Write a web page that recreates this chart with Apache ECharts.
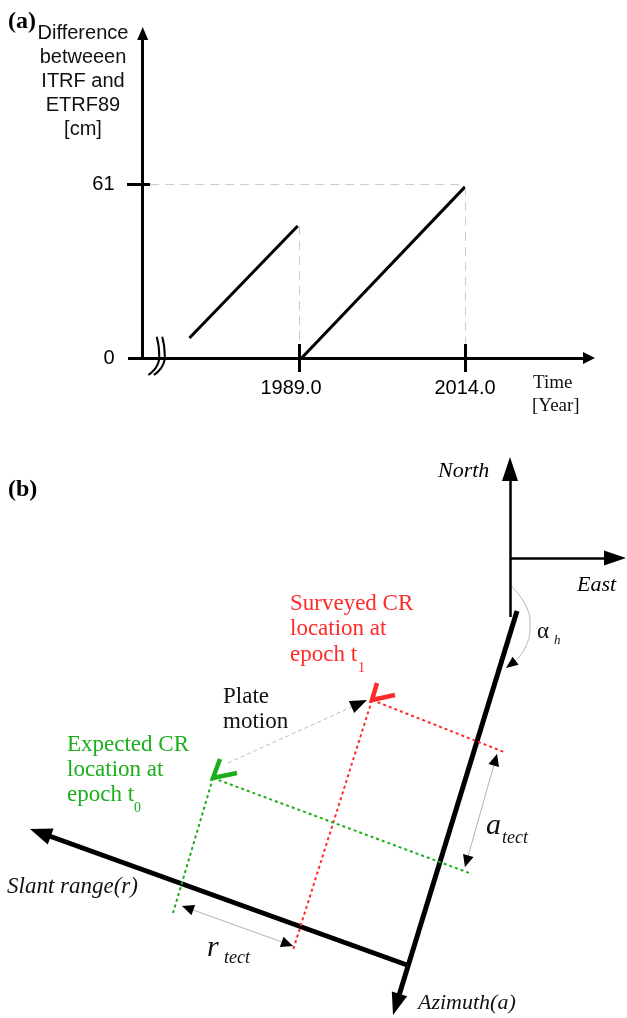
<!DOCTYPE html>
<html>
<head>
<meta charset="utf-8">
<script src="https://cdn.jsdelivr.net/npm/echarts@6/dist/echarts.min.js"></script>
<style>
  html, body { margin: 0; padding: 0; background: #fff; }
  #chart { width: 627px; height: 1018px; }
</style>
</head>
<body>
<div id="chart"></div>
<script>
// ---------- panel (a): difference between ITRF and ETRF89 ----------
const tickYears = [1989.0, 2014.0];
const tickCm = [0, 61];
const etrfBefore = [[1972.5, 7.0], [1988.8, 46.3]];
const etrfAfter = [[1989.4, 0], [2014.0, 60.0]];

// ---------- panel (b): range / azimuth geometry ----------
// diagram units (1 unit = 1 px), origin at the North/East cross, y up
const northDir = [[0, -59], [0, 101]];
const eastDir = [[0, 0], [116, 0]];
const azimuthAxis = [[7, -53], [-117, -457]];
const rangeAxis = [[-103, -407], [-480, -271]];
const surveyedCR = [[-133, -125], [-138, -142], [-115, -137]];
const expectedCR = [[-290, -201], [-297, -220], [-273, -215]];
const surveyedAz = [[-138, -142], [-217, -392]];
const surveyedRg = [[-138, -142], [-6, -194]];
const expectedAz = [[-297, -220], [-337, -355]];
const expectedRg = [[-297, -220], [-38, -316]];
const plateMotion = [[-282, -205], [-143, -142]];
const aTect = [[-13, -196], [-45, -309]];
const rTect = [[-328, -348], [-217, -388]];
const alphaArc = [[0, -27], [15, -46], [20, -68], [15, -90], [4, -104]];
const alphaTip = [-4, -110];

// px per data unit in each panel
const K_A = [6.64, 2.852];
const K_B = [1, 1];

// layout of panel (a) axes, in data units
const yAxisYear = 1965.46, yAxisTop = 116.06;
const xAxisStart = 1963.25, xAxisEnd = 2033.58;

const RED = '#ff2a2a', GREEN = '#1cae1c';

function unitPx(from, to, k) {
  const dx = (to[0] - from[0]) * k[0], dy = (to[1] - from[1]) * k[1];
  const d = Math.hypot(dx, dy);
  return [dx / d, dy / d];
}
function back(tip, u, dist, k) {
  return [tip[0] - u[0] * dist / k[0], tip[1] - u[1] * dist / k[1]];
}
// line with a solid head whose tip lands on `tip`
function arrowSeg(from, tip, len, wid, style, k) {
  const u = unitPx(from, tip, k);
  return [{coord: from, lineStyle: style},
          {coord: back(tip, u, len / 2, k), symbol: 'triangle', symbolSize: [wid, len]}];
}
// just a black head
function headOnly(from, tip, len, wid, k) {
  const u = unitPx(from, tip, k);
  return [{coord: back(tip, u, len * 0.9, k), lineStyle: {color: '#000', width: 1, type: 'solid'}},
          {coord: back(tip, u, len / 2, k), symbol: 'triangle', symbolSize: [wid, len]}];
}
function plainSeg(a, b, style) {
  return [{coord: a, lineStyle: style}, {coord: b}];
}
const solid = (w, c) => ({color: c || '#000', width: w, type: 'solid', cap: 'butt'});

function mlSeries(grid, items, z) {
  return {
    type: 'line', xAxisIndex: grid, yAxisIndex: grid, data: [], silent: true, z: z || 2,
    markLine: {
      silent: true, symbol: ['none', 'none'], label: {show: false},
      emphasis: {disabled: true}, animation: false, data: items
    }
  };
}
function poly(grid, pts, color, width, extra) {
  return Object.assign({
    type: 'line', xAxisIndex: grid, yAxisIndex: grid, data: pts, symbol: 'none',
    clip: false, silent: true, z: 3,
    lineStyle: {color: color, width: width, join: 'miter', cap: 'butt'}
  }, extra || {});
}

// panel (a) pieces
const guide = {color: '#cccccc', width: 1, type: [9, 6]};
const guidesA = [
  plainSeg([1966.6, tickCm[1]], [tickYears[1], tickCm[1]], guide),
  plainSeg([tickYears[1], etrfAfter[1][1]], [tickYears[1], 5], guide),
  plainSeg([tickYears[0], etrfBefore[1][1]], [tickYears[0], 5], guide)
];
const axesA = [
  arrowSeg([yAxisYear, 0], [yAxisYear, yAxisTop], 13, 11, solid(3), K_A),
  arrowSeg([xAxisStart, 0], [xAxisEnd, 0], 12, 12, solid(3), K_A),
  plainSeg([1963.1, tickCm[1]], [1966.57, tickCm[1]], solid(3))
].concat(tickYears.map(y => plainSeg([y, 4.9], [y, -4.9], solid(3))));

const breakA = [[1967.57, 7.47], [1967.96, 0.46], [1966.30, -5.96]];
const breakB = [[1968.40, 7.47], [1968.79, 0.46], [1967.13, -5.96]];

const tickLabels = tickYears.map((y, i) => ({
  value: [y, 0],
  label: {position: 'bottom', distance: 20, offset: [i === 0 ? -8 : 0, 0], formatter: y.toFixed(1)}
})).concat(tickCm.map(v => ({
  value: [1963.1, v], label: {position: 'left', distance: 12, formatter: String(v)}
})));

// panel (b) pieces
const axesB = [
  arrowSeg(northDir[0], northDir[1], 24, 16, solid(2.5), K_B),
  arrowSeg(eastDir[0], eastDir[1], 22, 15, solid(2.5), K_B),
  arrowSeg(azimuthAxis[0], azimuthAxis[1], 22, 16, solid(5), K_B),
  arrowSeg(rangeAxis[0], rangeAxis[1], 22, 17, solid(5), K_B)
];
const dotR = {color: RED, width: 2, type: [3, 3]};
const dotG = {color: GREEN, width: 2, type: [3, 3]};
const projB = [
  plainSeg(surveyedAz[0], surveyedAz[1], dotR),
  plainSeg(surveyedRg[0], surveyedRg[1], dotR),
  plainSeg(expectedAz[0], expectedAz[1], dotG),
  plainSeg(expectedRg[0], expectedRg[1], dotG)
];
const thinGray = {color: '#b3b3b3', width: 1, type: 'solid'};
const motionGray = {color: '#bdbdbd', width: 1, type: [4, 3]};
const pmU = unitPx(plateMotion[0], plateMotion[1], K_B);
const measureB = [
  plainSeg(plateMotion[0], back(plateMotion[1], pmU, 14, K_B), motionGray),
  headOnly(plateMotion[0], plateMotion[1], 17, 13, K_B),
  plainSeg(aTect[0], aTect[1], thinGray),
  headOnly(aTect[1], aTect[0], 12, 11, K_B),
  headOnly(aTect[0], aTect[1], 12, 11, K_B),
  plainSeg(rTect[0], rTect[1], thinGray),
  headOnly(rTect[1], rTect[0], 12, 11, K_B),
  headOnly(rTect[0], rTect[1], 12, 11, K_B),
  headOnly(alphaArc[alphaArc.length - 1], alphaTip, 12, 10, K_B)
];

function T(x, y, text, font, fill, align, vAlign, lh) {
  return {
    type: 'text', x: x, y: y, silent: true, z: 10,
    style: {
      text: text, font: font, fill: fill || '#000',
      align: align || 'left', verticalAlign: vAlign || 'middle',
      textAlign: align || 'left', textVerticalAlign: vAlign || 'middle',
      lineHeight: lh
    }
  };
}
const serif = '"Liberation Serif", "Times New Roman", serif';
const sans = '"Liberation Sans", Arial, sans-serif';
const texts = [
  T(8, 22, '(a)', 'bold 24px ' + serif),
  T(83, 21, 'Difference\nbetweeen\nITRF and\nETRF89\n[cm]', '20px ' + sans, '#111', 'center', 'top', 24),
  T(533, 383, 'Time', '19px ' + serif, '#111'),
  T(532, 406, '[Year]', '19px ' + serif, '#111'),
  T(8, 490, '(b)', 'bold 24px ' + serif),
  T(438, 471, 'North', 'italic 22px ' + serif),
  T(577, 585, 'East', 'italic 22px ' + serif),
  T(537, 632, 'α', '23px ' + serif, '#111'),
  T(554, 641, 'h', 'italic 13px ' + serif, '#111'),
  T(290, 591, 'Surveyed CR\nlocation at\nepoch t', '23px ' + serif, RED, 'left', 'top', 25.5),
  T(358, 668, '1', '14px ' + serif, RED),
  T(223, 684.5, 'Plate\nmotion', '23px ' + serif, '#111', 'left', 'top', 25),
  T(67, 732.5, 'Expected CR\nlocation at\nepoch t', '23px ' + serif, GREEN, 'left', 'top', 25),
  T(134, 808, '0', '14px ' + serif, GREEN),
  T(486, 826, 'a', 'italic 30px ' + serif, '#111'),
  T(502, 838, 'tect', 'italic 18px ' + serif, '#111'),
  T(207, 948, 'r', 'italic 30px ' + serif, '#111'),
  T(224, 958, 'tect', 'italic 18px ' + serif, '#111'),
  T(7, 887, 'Slant range(r)', 'italic 23px ' + serif, '#111'),
  T(418, 1003, 'Azimuth(a)', 'italic 22px ' + serif, '#111')
];

const chart = echarts.init(document.getElementById('chart'));
const option = {
  animation: false,
  backgroundColor: '#fff',
  grid: [
    {left: 123.04, top: 24.32, width: 474.76, height: 350.8, outerBoundsMode: 'none'},
    {left: 0, top: 440, width: 627, height: 578, outerBoundsMode: 'none'}
  ],
  xAxis: [
    {type: 'value', gridIndex: 0, min: 1962.5, max: 2034, show: false},
    {type: 'value', gridIndex: 1, min: -510, max: 117, show: false}
  ],
  yAxis: [
    {type: 'value', gridIndex: 0, min: -6, max: 117, show: false},
    {type: 'value', gridIndex: 1, min: -460, max: 118, show: false}
  ],
  graphic: {elements: texts},
  series: [
    mlSeries(0, guidesA, 1),
    poly(0, etrfBefore, '#000', 3),
    poly(0, etrfAfter, '#000', 3),
    mlSeries(0, axesA, 4),
    poly(0, breakA, '#000', 2, {smooth: 0.6, z: 5}),
    poly(0, breakB, '#000', 2, {smooth: 0.6, z: 5}),
    {
      type: 'scatter', xAxisIndex: 0, yAxisIndex: 0, data: tickLabels, symbolSize: 1,
      clip: false, silent: true, itemStyle: {color: 'rgba(0,0,0,0)'},
      label: {show: true, color: '#000', opacity: 1, fontFamily: 'Liberation Sans', fontSize: 20}
    },
    mlSeries(1, axesB, 2),
    mlSeries(1, projB, 3),
    mlSeries(1, measureB, 4),
    poly(1, alphaArc, '#b3b3b3', 1, {smooth: 0.5}),
    poly(1, surveyedCR, RED, 4.5, {z: 6}),
    poly(1, expectedCR, GREEN, 4.5, {z: 6})
  ]
};
chart.setOption(option);
</script>
</body>
</html>
